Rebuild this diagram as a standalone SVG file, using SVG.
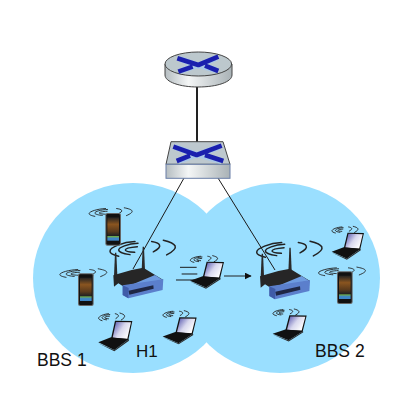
<svg xmlns="http://www.w3.org/2000/svg" xmlns:xlink="http://www.w3.org/1999/xlink" width="415" height="403" viewBox="0 0 415 403">
<style>
.t{font-family:"Liberation Sans",Arial,sans-serif;fill:#111}
.w path{fill:none;stroke:#222;stroke-linecap:round;vector-effect:non-scaling-stroke}
.big{stroke-width:1.500}
.sm{stroke-width:.9}
.x{fill:none;stroke:#1a1fae;stroke-width:14;stroke-linejoin:round}
.h{fill:none;stroke:#a9c7e6;stroke-width:18}
.l{stroke:#1a1a1a;fill:none}
</style>
<defs>
<linearGradient id="rg" x1="0" x2="1" y1="0" y2="0"><stop offset="0" stop-color="#b5bdc1"/><stop offset=".35" stop-color="#f4f6f6"/><stop offset="1" stop-color="#a9b2b6"/></linearGradient>
<linearGradient id="sc" x1="0" x2="1" y1="0" y2=".6"><stop offset="0" stop-color="#4a4aa8"/><stop offset=".55" stop-color="#d8d8ee"/><stop offset="1" stop-color="#fff"/></linearGradient>
<linearGradient id="ph" x1="0" x2="0" y1="0" y2="1"><stop offset="0" stop-color="#222"/><stop offset=".3" stop-color="#8a5520"/><stop offset=".6" stop-color="#5a3a1c"/><stop offset=".78" stop-color="#222"/><stop offset=".82" stop-color="#6aa84f"/><stop offset=".9" stop-color="#3d85c6"/></linearGradient>
<marker id="a" viewBox="0 0 10 10" refX="9" refY="5" markerWidth="7" markerHeight="7" orient="auto" markerUnits="userSpaceOnUse"><path d="M0 0L10 5L0 10Z" fill="#111"/></marker>
<g id="wave" class="w">
<path d="M77 8C40 10 2 28 2 42C2 50 14 56 28 60"/>
<path d="M86 14C55 16 28 28 28 38C28 46 46 52 62 54"/>
<path d="M84 26C62 28 48 32 48 38C48 42 60 45 76 46"/>
<path d="M127 8C150 12 165 24 132 44"/>
<path d="M162 3C200 14 215 28 172 55"/>
</g>
<g id="laptop">
<path d="M50 0L102 1L90 58L38 54Z" fill="#111"/>
<path d="M53 4L98 5L87 54L43 51Z" fill="url(#sc)"/>
<path d="M38 50L91 56L48 88L0 65Z" fill="#111"/>
<path d="M48 88L91 56L92 60L48 92L0 68Z" fill="#2b2b2b"/>
</g>
<g id="phone">
<rect x="-1" y="-3" width="47" height="98" rx="6" fill="#666"/>
<rect x="2" y="0" width="41" height="92" rx="4" fill="#111"/>
<rect x="5" y="10" width="35" height="70" fill="url(#ph)"/>
</g>
<g id="ap">
<path d="M192 228L195 158L199 158L202 226Z" fill="#2a2a2a"/>
<path d="M275 212L278 140L282 140L285 210Z" fill="#2a2a2a"/>
<path d="M190 226L245 210L280 203L340 240L218 258L205 250L192 260Z" fill="#262626"/>
<path d="M250 252L315 225L338 240L225 258Z" fill="#6d9be0"/>
<path d="M218 256L340 238L338 270L235 295L218 285Z" fill="#5b7fcc"/>
<path d="M218 256L236 264L235 295L218 285Z" fill="#3f5ca8"/>
<path d="M236 272L310 256L311 266L238 284Z" fill="#1f2744"/>
</g>
</defs>
<g id="cells">
<ellipse cx="133" cy="278" rx="100" ry="95" fill="#9adfff"/>
<ellipse cx="280" cy="278" rx="100" ry="95" fill="#9adfff"/>
</g>
<g id="connectors">
<line x1="197" y1="87" x2="197" y2="142" stroke="#222" stroke-width="2"/>
<line class="l" x1="184" y1="178" x2="133" y2="269"/>
<line class="l" x1="218" y1="178" x2="275" y2="270"/>
<line x1="224" y1="276" x2="251" y2="276" stroke="#222" stroke-width="1" marker-end="url(#a)"/>
</g>
<g id="router">
<path d="M165 64V75C165 82 180 87 198 87C217 87 232 82 232 75V64Z" fill="url(#rg)" stroke="#444"/>
<ellipse cx="198.300" cy="64" rx="33.300" ry="12" fill="#bcc8cd" stroke="#444"/>
<g transform="translate(160,45) scale(.3333)">
<path class="h" d="M60 42L115 62L170 38M60 78L115 60L170 75"/>
<path class="x" d="M52 40L115 60L175 35M55 80L98 65M135 62L175 78"/>
</g>
</g>
<g id="switch">
<path d="M171 141.700H223L230 164.300H166Z" fill="#bdc8ce" stroke="#444"/>
<rect x="166" y="164.300" width="64" height="14" fill="url(#rg)" stroke="#6a7fa8"/>
<g transform="translate(160,135) scale(.3333)">
<path class="h" d="M45 36L112 60L180 34M55 78L112 58L185 78"/>
<path class="x" d="M40 35L110 60L185 32M50 78L90 62M135 60L190 78"/>
</g>
</g>
<g id="ap1" transform="translate(50,200) scale(.3333)">
<use href="#wave" xlink:href="#wave" class="big" transform="translate(178,118) scale(1,.85)"/>
<use href="#ap" xlink:href="#ap"/>
</g>
<g id="ap2" transform="translate(196.700,201) scale(.3333)">
<use href="#wave" xlink:href="#wave" class="big" transform="translate(178,118) scale(1,.85)"/>
<use href="#ap" xlink:href="#ap"/>
</g>
<g id="phone1" transform="translate(50,200) scale(.3333)">
<use href="#wave" xlink:href="#wave" class="sm" transform="translate(116,22) scale(.66,.45)"/>
<use href="#phone" xlink:href="#phone" transform="translate(167,42)"/>
</g>
<g id="phone2" transform="translate(50,200) scale(.3333)">
<use href="#wave" xlink:href="#wave" class="sm" transform="translate(28,205) scale(.72,.45)"/>
<use href="#phone" xlink:href="#phone" transform="translate(85,223)"/>
</g>
<g id="phone3" transform="translate(230,210) scale(.3333)">
<use href="#wave" xlink:href="#wave" class="sm" transform="translate(264,170) scale(.72,.45)"/>
<use href="#phone" xlink:href="#phone" transform="translate(322,187)"/>
</g>
<g id="laptop1" transform="translate(50,200) scale(.3333)">
<use href="#wave" xlink:href="#wave" class="sm" transform="translate(145,338) scale(.4,.4)"/>
<use href="#laptop" xlink:href="#laptop" transform="translate(145,362)"/>
</g>
<g id="laptop2" transform="translate(50,200) scale(.3333)">
<use href="#wave" xlink:href="#wave" class="sm" transform="translate(338,331) scale(.4,.35)"/>
<use href="#laptop" xlink:href="#laptop" transform="translate(338,352) scale(1,.88)"/>
</g>
<g id="laptop3" transform="translate(50,200) scale(.3333)">
<use href="#wave" xlink:href="#wave" class="sm" transform="translate(420,166) scale(.42,.35)"/>
<use href="#laptop" xlink:href="#laptop" transform="translate(420,185) scale(1,.88)"/>
<path class="l" stroke-width="3" d="M390 202H440M395 222H442M378 240H440"/>
</g>
<g id="laptop4" transform="translate(230,210) scale(.3333)">
<use href="#wave" xlink:href="#wave" class="sm" transform="translate(305,48) scale(.4,.35)"/>
<use href="#laptop" xlink:href="#laptop" transform="translate(305,68) scale(.95,.88)"/>
</g>
<g id="laptop5" transform="translate(230,210) scale(.3333)">
<use href="#wave" xlink:href="#wave" class="sm" transform="translate(128,296) scale(.4,.35)"/>
<use href="#laptop" xlink:href="#laptop" transform="translate(128,316) scale(1,.85)"/>
</g>
<g id="labels">
<text class="t" x="37" y="366" font-size="17.500">BBS 1</text>
<text class="t" x="136" y="357" font-size="17">H1</text>
<text class="t" x="315" y="357" font-size="17.500">BBS 2</text>
</g>
</svg>
